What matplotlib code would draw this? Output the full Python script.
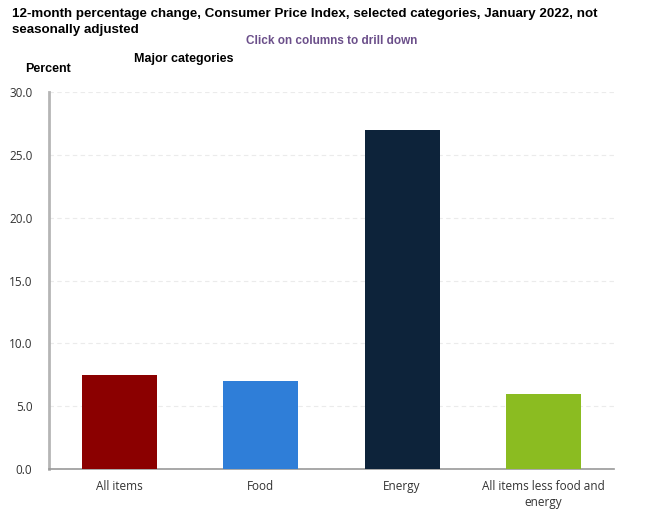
import matplotlib
matplotlib.use("Agg")
import matplotlib.pyplot as plt

categories = ["All items", "Food", "Energy", "All items less food and\nenergy"]
values = [7.5, 7.0, 27.0, 6.0]
colors = ["#8b0000", "#2f7ed8", "#0d233a", "#8bbc21"]
yticks = [0, 5, 10, 15, 20, 25, 30]

fig = plt.figure(figsize=(6.58, 5.2), dpi=100)
ax = fig.add_axes([49 / 658, 1 - 469 / 520, 565 / 658, 377 / 520])

ax.bar(range(len(values)), values, width=0.53, color=colors, zorder=3)
ax.set_xlim(-0.5, len(values) - 0.5)
ax.set_ylim(0, 30)
ax.set_yticks(yticks)
ax.set_yticklabels([f"{t:.1f}" for t in yticks], fontsize=8.5, color="#333333",
                   family="Open Sans")
ax.set_xticks(range(len(values)))
ax.set_xticklabels(categories, fontsize=8.5, color="#333333", family="Open Sans",
                   linespacing=1.3)
ax.tick_params(axis="both", length=0, pad=8)
ax.tick_params(axis="y", pad=12)
ax.yaxis.grid(True, color="#ebebeb", linestyle=(0, (4, 3)), linewidth=0.8, zorder=0)

for side in ["top", "right"]:
    ax.spines[side].set_visible(False)
ax.spines["left"].set_color("#b5b5b5")
ax.spines["left"].set_linewidth(2)
ax.spines["bottom"].set_color("#999999")
ax.spines["bottom"].set_linewidth(1.2)

fig.text(12 / 658, 1 - 8 / 520,
         "12-month percentage change, Consumer Price Index, selected categories, January 2022, not\nseasonally adjusted",
         ha="left", va="top", fontsize=9.6, fontweight="bold", family="Liberation Sans",
         linespacing=1.4)
fig.text(332 / 658, 1 - 41 / 520, "Click on columns to drill down", ha="center",
         va="center", fontsize=8.5, fontweight="bold", color="#6b4f8a",
         family="Liberation Sans")
fig.text(134 / 658, 1 - 59 / 520, "Major categories", ha="left", va="center",
         fontsize=9, fontweight="bold", family="Liberation Sans")
fig.text(25 / 658, 1 - 69 / 520, "Percent", ha="left", va="center",
         fontsize=9, fontweight="bold", family="Liberation Sans")

fig.savefig("out.png", dpi=100)
